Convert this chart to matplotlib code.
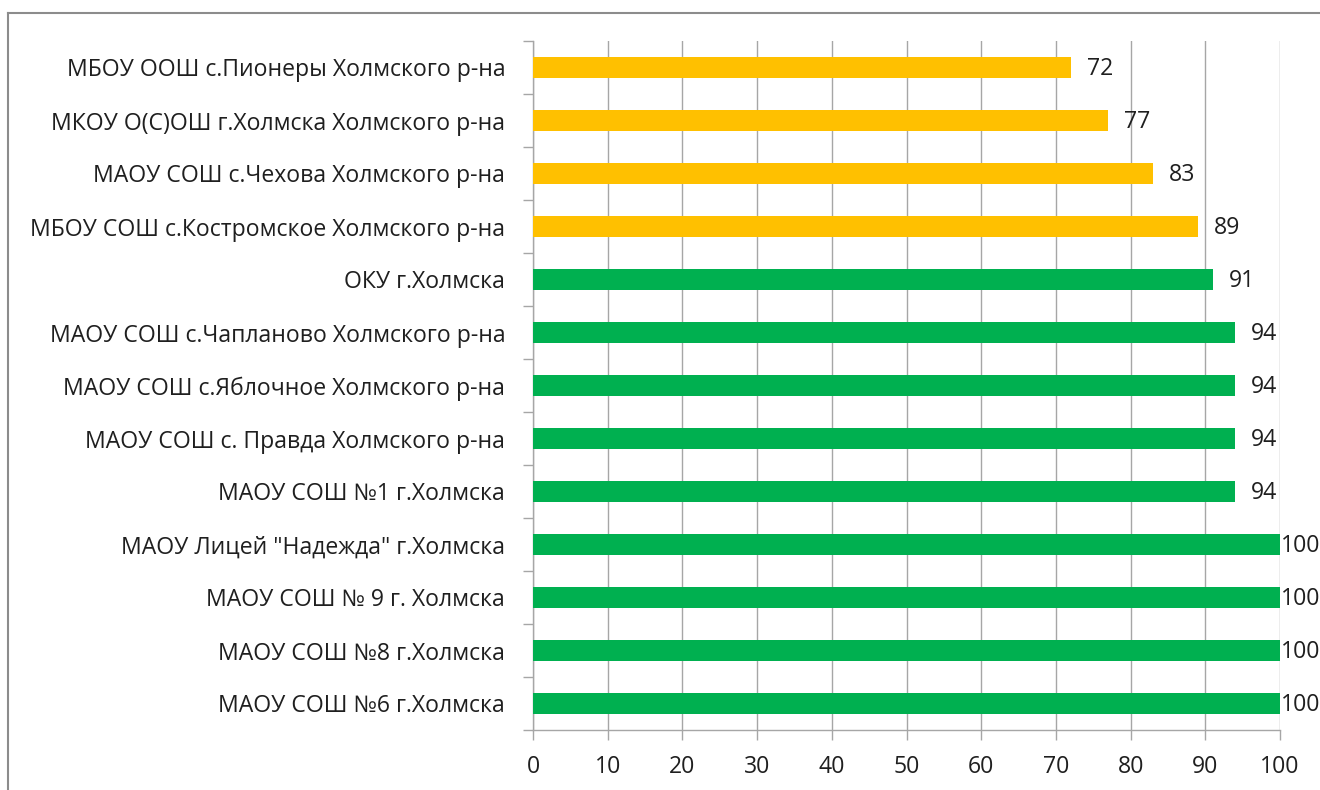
import matplotlib.pyplot as plt
from matplotlib.lines import Line2D

# Data (top to bottom as shown)
schools = [
    'МБОУ ООШ с.Пионеры Холмского р-на',
    'МКОУ О(С)ОШ г.Холмска Холмского р-на',
    'МАОУ СОШ с.Чехова Холмского р-на',
    'МБОУ СОШ с.Костромское Холмского р-на',
    'ОКУ г.Холмска',
    'МАОУ СОШ с.Чапланово Холмского р-на',
    'МАОУ СОШ с.Яблочное Холмского р-на',
    'МАОУ СОШ с. Правда Холмского р-на',
    'МАОУ СОШ №1 г.Холмска',
    'МАОУ Лицей "Надежда" г.Холмска',
    'МАОУ СОШ № 9 г. Холмска',
    'МАОУ СОШ №8 г.Холмска',
    'МАОУ СОШ №6 г.Холмска',
]
values = [72, 77, 83, 89, 91, 94, 94, 94, 94, 100, 100, 100, 100]
bar_colors = ['#FFC000'] * 4 + ['#00B050'] * 9

plt.rcParams['font.family'] = ['Open Sans', 'DejaVu Sans']
text_color = '#1f1f1f'
fs = 16.6

fig = plt.figure(figsize=(13.2, 7.9), dpi=100)
ax = fig.add_axes([533 / 1320, 1 - 730 / 790, (1280 - 533) / 1320, (730 - 41) / 790])

ypos = list(range(len(schools)))
ax.barh(ypos, values, height=0.4, color=bar_colors, zorder=3)

ax.set_xlim(0, 100)
ax.set_ylim(len(schools) - 0.5, -0.5)
ax.set_xticks(range(0, 101, 10))
ax.set_yticks(ypos)
ax.set_yticklabels(schools)
ax.set_yticks([i - 0.5 for i in range(len(schools) + 1)], minor=True)

ax.grid(True, axis='x', color='#a6a6a6', linewidth=1.0, zorder=0)
ax.set_axisbelow(True)

for s in ['top', 'right']:
    ax.spines[s].set_visible(False)
for s in ['left', 'bottom']:
    ax.spines[s].set_color('#a6a6a6')
    ax.spines[s].set_linewidth(1.0)

ax.tick_params(axis='y', which='major', length=0, pad=20, labelsize=fs, labelcolor=text_color)
ax.tick_params(axis='y', which='minor', length=7, width=1.0, color='#a6a6a6', direction='out')
ax.tick_params(axis='x', which='major', length=7, width=1.0, color='#a6a6a6', pad=11,
               labelsize=fs, labelcolor=text_color)

# value labels; the 100s sit right at the plot edge like in the original
for y, v in zip(ypos, values):
    off = 11.5 if v < 100 else 1.0
    ax.annotate(str(v), xy=(v, y), xytext=(off, -1.2), textcoords='offset points',
                ha='left', va='center', fontsize=fs, color=text_color,
                annotation_clip=False)

# chart border (extends past the right and bottom edges)
fig.add_artist(Line2D([7.5 / 1320, 1.01], [1 - 13 / 790, 1 - 13 / 790],
                      transform=fig.transFigure, color='#8c8c8c', linewidth=1.5))
fig.add_artist(Line2D([7.5 / 1320, 7.5 / 1320], [1 - 13 / 790, -0.01],
                      transform=fig.transFigure, color='#8c8c8c', linewidth=1.5))

fig.savefig('out.png', dpi=100, facecolor='white')
